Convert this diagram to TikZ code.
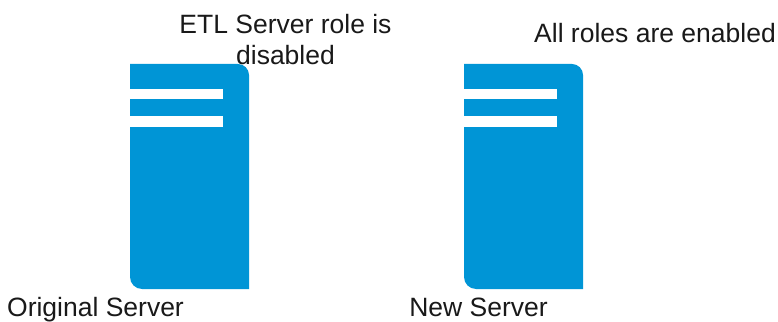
\documentclass[tikz,border=0pt]{standalone}
\usepackage{fontspec}
\setmainfont{Liberation Sans}
\definecolor{serverblue}{HTML}{0095D6}
\tikzset{
  caption/.style={inner sep=0pt,align=center,text=black!90,font=\fontsize{26.5pt}{31pt}\selectfont},
}
\begin{document}
\begin{tikzpicture}[x=1pt,y=1pt]
\useasboundingbox (0,0) rectangle (778,321);

\foreach \xs in {130,464}{
\fill[serverblue] (\xs,257) -- (\xs+108,257) arc (90:0:11) -- (\xs+119,32) -- (\xs+12,32) arc (270:180:12) -- cycle;
\fill[white] (\xs,232) rectangle (\xs+93,221.5);
\fill[white] (\xs,204.5) rectangle (\xs+93,194);
}

\node[caption] (etl) at (285.5,281) {ETL Server role is\\disabled};
\node[caption,anchor=base] (all) at (655,278) {All roles are enabled};
\node[caption,anchor=base] (orig) at (95.5,5) {Original Server};
\node[caption,anchor=base] (new) at (478.5,5) {New Server};

\end{tikzpicture}
\end{document}
